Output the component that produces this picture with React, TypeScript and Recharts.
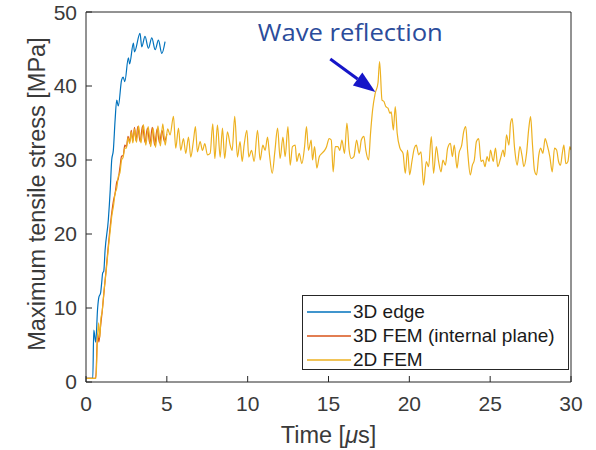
import { LineChart, Line, XAxis, YAxis, Legend, Label, ReferenceLine } from 'recharts';

// [time in µs, max tensile stress in MPa]
const edge3D: [number, number][] = [
  [0, 0.5], [0.42, 0.5], [0.48, 7], [0.6, 5.4], [0.72, 10], [0.8, 11.5], [0.9, 12], [0.97, 13.4],
  [1.03, 14.7], [1.1, 15], [1.18, 17.8], [1.38, 21.9], [1.5, 26], [1.59, 30], [1.69, 31.3],
  [1.8, 35.4], [1.9, 38.1], [2.0, 37.3], [2.2, 40.8], [2.3, 41.2], [2.4, 40.6], [2.62, 43.8],
  [2.7, 43], [2.93, 45.8], [3.0, 44.6], [3.34, 47.1], [3.45, 45.3], [3.65, 46.7], [3.86, 45.1],
  [4.07, 46.5], [4.28, 44.9], [4.48, 46.2], [4.69, 44.4], [4.89, 46],
];

const fem3D: [number, number][] = [
  [0, 0.5], [0.6, 0.5], [0.72, 6.5], [0.8, 5.4], [0.9, 7.5], [1.0, 9.5], [1.15, 13], [1.3, 16.5],
  [1.45, 20], [1.6, 23], [1.7, 24.5], [1.8, 25.5], [1.9, 27], [2.0, 27.5], [2.1, 29], [2.2, 30.5],
  [2.3, 30.6], [2.4, 32], [2.5, 31.8], [2.6, 33.2], [2.7, 32.4], [2.8, 34], [2.9, 32.6], [3.0, 34.4],
  [3.1, 32.6], [3.2, 34.5], [3.35, 32.5], [3.5, 34.6], [3.65, 32.4], [3.8, 34.3], [3.95, 32.2],
  [4.1, 34.4], [4.25, 32], [4.4, 34.2], [4.55, 32.3], [4.7, 34], [4.85, 32.5], [5.0, 33.5],
];

const fem2D: [number, number][] = [
  [0, 0.5], [0.62, 0.5], [0.7, 5.5], [0.78, 8], [0.85, 6], [0.92, 8.5], [1.0, 9.5], [1.1, 12],
  [1.25, 15], [1.4, 18.5], [1.5, 20.5], [1.6, 22.5], [1.7, 23.8], [1.8, 25.5], [1.9, 26.2],
  [2.0, 27.8], [2.1, 28.3], [2.2, 30], [2.3, 30.4], [2.4, 31.6], [2.5, 31.6], [2.6, 33], [2.7, 32.2],
  [2.8, 33.8], [2.9, 32.3], [3.0, 34.2], [3.12, 32.4], [3.25, 34.6], [3.4, 32.3], [3.55, 34.8],
  [3.7, 32], [3.85, 34.5], [4.0, 31.8], [4.15, 34.3], [4.3, 31.7], [4.45, 34.6], [4.6, 31.9],
  [4.75, 34.9], [4.9, 32], [5.05, 34.2], [5.2, 33.4],
  [5.41, 35.9], [5.55, 31.6], [5.72, 34.3], [5.86, 31.3], [6.03, 32.9], [6.17, 30.9], [6.34, 33.1],
  [6.48, 30.4], [6.64, 32.5], [6.77, 34.5], [6.89, 31.1], [7.06, 32.5], [7.2, 31.3], [7.35, 32.2],
  [7.51, 30.7], [7.68, 30.9], [7.84, 34.9], [7.97, 30.2], [8.13, 34.7], [8.3, 30.4], [8.44, 34.3],
  [8.58, 30.2], [8.75, 33.8], [8.92, 32], [9.04, 31.3], [9.2, 35.9], [9.37, 30.4], [9.53, 32.5],
  [9.66, 29.8], [9.78, 32], [9.95, 34], [10.07, 30.4], [10.24, 31.3], [10.4, 29.8], [10.61, 34],
  [10.77, 30], [10.94, 32], [11.08, 31.3], [11.23, 33.1], [11.35, 30.7], [11.52, 28.2], [11.68, 31.1],
  [11.85, 34.3], [12.01, 30.2], [12.18, 33.1],
  [12.32, 30.45], [12.49, 34.5], [12.63, 29.3], [12.77, 31.8], [12.94, 32], [13.04, 29.8],
  [13.19, 30.9], [13.35, 29.5], [13.52, 31.8], [13.64, 34.5], [13.76, 31.3], [13.93, 32.7],
  [14.01, 30], [14.14, 31.8], [14.28, 28.9], [14.43, 30.45], [14.59, 30.9], [14.76, 31.3],
  [14.88, 31.8], [15.04, 32.9], [15.17, 32.7], [15.29, 28.4], [15.42, 31.8], [15.58, 31.8],
  [15.7, 31.3], [15.83, 32.7], [15.99, 30.9], [16.14, 35], [16.28, 31.3], [16.41, 30.2],
  [16.57, 30.45], [16.74, 32.7], [16.9, 30.9], [17.03, 32.7], [17.19, 33.2], [17.31, 31.3],
  [17.48, 30], [17.6, 33.6], [17.73, 36.8], [17.89, 39], [18.06, 40.4], [18.16, 43.3], [18.31, 38.1],
  [18.43, 37.9], [18.55, 37.2], [18.68, 37], [18.8, 36.3], [18.88, 36.5], [19.01, 34.05],
  [19.13, 37.2], [19.25, 33.6], [19.42, 31.6],
  [19.61, 30.9], [19.75, 28.2], [19.89, 31.35], [20.02, 28], [20.16, 29.8], [20.31, 31.6],
  [20.43, 32], [20.58, 30.7], [20.72, 31.1], [20.88, 26.6], [21.05, 29.8], [21.19, 29.1],
  [21.36, 33.15], [21.5, 28.2], [21.67, 31.8], [21.81, 29.8], [21.96, 28.4], [22.08, 30],
  [22.23, 29.3], [22.37, 31.6], [22.54, 32.25], [22.66, 30.45], [22.78, 32], [22.95, 28.9],
  [23.07, 30.9], [23.24, 32], [23.36, 33.8], [23.49, 34.5], [23.61, 31.1], [23.77, 28], [23.9, 29.3],
  [24.02, 30], [24.15, 32.5], [24.29, 32.9], [24.43, 29.8], [24.56, 30], [24.68, 29.1],
  [24.81, 30.45], [24.93, 29.8],
  [25.02, 31.35], [25.19, 29.8], [25.33, 31.6], [25.47, 29.1], [25.64, 30.2], [25.8, 31.35],
  [25.89, 30.45], [26.01, 33.4], [26.16, 32], [26.26, 34.95], [26.36, 35.6], [26.51, 31.6],
  [26.67, 29.3], [26.84, 31.8], [26.98, 30.45], [27.08, 29.1], [27.25, 30.9], [27.39, 34.3],
  [27.5, 35.85], [27.62, 32], [27.74, 28.6], [27.87, 28], [28.01, 30.7], [28.12, 31.6],
  [28.26, 30.9], [28.4, 32.9], [28.53, 32], [28.69, 30.45], [28.84, 28.4], [28.98, 31.6],
  [29.11, 31.35], [29.23, 29.8], [29.35, 29.3], [29.46, 30.9], [29.56, 32], [29.68, 29.5],
  [29.81, 29.8], [29.93, 31.8], [30, 31.35],
];

const timeTicks = [0, 5, 10, 15, 20, 25, 30];
const stressTicks = [0, 10, 20, 30, 40, 50];
const seriesNames = ['3D edge', '3D FEM (internal plane)', '2D FEM'];
const seriesColors = ['#0072BD', '#D95319', '#EDB120'];
// annotation arrow: tail and tip in data units
const arrowTail = { x: 15.11, y: 43.65 };
const arrowTip = { x: 17.9, y: 39.2 };

const AXIS = '#262626';
const TEXT = '#3a3a3a';
const FONT = 'Liberation Sans, Arial, Helvetica, sans-serif';

const toPoints = (rows: [number, number][]) => rows.map(([t, s]) => ({ t, s }));

function ArrowShape(props: any) {
  const { x1, y1, x2, y2 } = props;
  const ang = Math.atan2(y2 - y1, x2 - x1);
  const len = 22;
  const half = 8;
  const bx = x2 - len * Math.cos(ang);
  const by = y2 - len * Math.sin(ang);
  const px = -Math.sin(ang) * half;
  const py = Math.cos(ang) * half;
  return (
    <g>
      <line x1={x1} y1={y1} x2={bx} y2={by} stroke="#1616C8" strokeWidth={3} />
      <polygon points={`${x2},${y2} ${bx + px},${by + py} ${bx - px},${by - py}`} fill="#1616C8" />
      <text
        x={x1 + 20}
        y={y1 - 18}
        textAnchor="middle"
        fill="#2B4C9B"
        fontSize={24}
        fontFamily="Open Sans, sans-serif"
        textLength={185}
        lengthAdjust="spacingAndGlyphs"
      >
        Wave reflection
      </text>
    </g>
  );
}

// legend drawn in plotting order (blue, orange, yellow)
function renderLegend() {
  return (
    <div
      style={{
        width: 267,
        height: 75,
        boxSizing: 'border-box',
        border: `1px solid ${AXIS}`,
        background: '#fff',
        paddingTop: 4,
        fontFamily: FONT,
        fontSize: 19,
        color: '#1a1a1a',
      }}
    >
      {seriesNames.map((name, i) => (
        <div key={name} style={{ display: 'flex', alignItems: 'center', height: 24 }}>
          <svg width={50} height={24} style={{ display: 'block' }}>
            <line x1={4} y1={12} x2={48} y2={12} stroke={seriesColors[i]} strokeWidth={1.3} />
          </svg>
          <span style={{ lineHeight: '24px', whiteSpace: 'nowrap' }}>{name}</span>
        </div>
      ))}
    </div>
  );
}

export default function App() {
  return (
    <div style={{ position: 'absolute', left: 0, top: 0, background: '#fff', fontFamily: FONT }}>
      <LineChart
        width={596}
        height={450}
        margin={{ top: 11, right: 24, bottom: 0, left: 0 }}
        style={{ fontFamily: FONT }}
      >
        <XAxis
          xAxisId="b"
          type="number"
          dataKey="t"
          domain={[0, 30]}
          ticks={timeTicks}
          allowDataOverflow
          height={68}
          tickSize={-6}
          tickMargin={20}
          axisLine={{ stroke: AXIS }}
          tickLine={{ stroke: AXIS }}
          tick={{ fill: TEXT, fontSize: 21, fontFamily: FONT }}
        >
          <Label
            content={({ viewBox }: any) => (
              <text
                x={viewBox.x + viewBox.width / 2}
                y={viewBox.y + 61}
                textAnchor="middle"
                fill={TEXT}
                fontSize={23.5}
                fontFamily={FONT}
              >
                Time [<tspan fontStyle="italic">μ</tspan>s]
              </text>
            )}
          />
        </XAxis>
        <XAxis
          xAxisId="top"
          orientation="top"
          type="number"
          domain={[0, 30]}
          ticks={timeTicks}
          allowDataOverflow
          height={1}
          tickSize={-6}
          tick={false}
          axisLine={{ stroke: AXIS }}
          tickLine={{ stroke: AXIS }}
        />
        <YAxis
          yAxisId="l"
          type="number"
          domain={[0, 50]}
          ticks={stressTicks}
          allowDataOverflow
          width={86}
          tickSize={-6}
          tickMargin={15}
          axisLine={{ stroke: AXIS }}
          tickLine={{ stroke: AXIS }}
          tick={{ fill: TEXT, fontSize: 21, fontFamily: FONT }}
        >
          <Label
            content={({ viewBox }: any) => {
              const cy = viewBox.y + viewBox.height / 2 - 3;
              return (
                <text
                  x={45}
                  y={cy}
                  transform={`rotate(-90 45 ${cy})`}
                  textAnchor="middle"
                  fill={TEXT}
                  fontSize={23.5}
                  fontFamily={FONT}
                >
                  Maximum tensile stress [MPa]
                </text>
              );
            }}
          />
        </YAxis>
        <YAxis
          yAxisId="r"
          orientation="right"
          type="number"
          domain={[0, 50]}
          ticks={stressTicks}
          allowDataOverflow
          width={1}
          tickSize={-6}
          tick={false}
          axisLine={{ stroke: AXIS }}
          tickLine={{ stroke: AXIS }}
        />
        <Line
          xAxisId="b"
          yAxisId="l"
          data={toPoints(edge3D)}
          dataKey="s"
          name={seriesNames[0]}
          type="monotone"
          stroke={seriesColors[0]}
          strokeWidth={1.2}
          dot={false}
          activeDot={false}
          isAnimationActive={false}
        />
        <Line
          xAxisId="b"
          yAxisId="l"
          data={toPoints(fem3D)}
          dataKey="s"
          name={seriesNames[1]}
          type="monotone"
          stroke={seriesColors[1]}
          strokeWidth={1.2}
          dot={false}
          activeDot={false}
          isAnimationActive={false}
        />
        <Line
          xAxisId="b"
          yAxisId="l"
          data={toPoints(fem2D)}
          dataKey="s"
          name={seriesNames[2]}
          type="monotone"
          stroke={seriesColors[2]}
          strokeWidth={1.2}
          dot={false}
          activeDot={false}
          isAnimationActive={false}
        />
        <ReferenceLine
          xAxisId="b"
          yAxisId="l"
          segment={[arrowTail, arrowTip]}
          shape={ArrowShape}
          ifOverflow="visible"
        />
        <Legend
          layout="vertical"
          align="center"
          verticalAlign="middle"
          wrapperStyle={{ left: 302, top: 295, width: 267, height: 75 }}
          content={renderLegend}
        />
      </LineChart>
    </div>
  );
}
